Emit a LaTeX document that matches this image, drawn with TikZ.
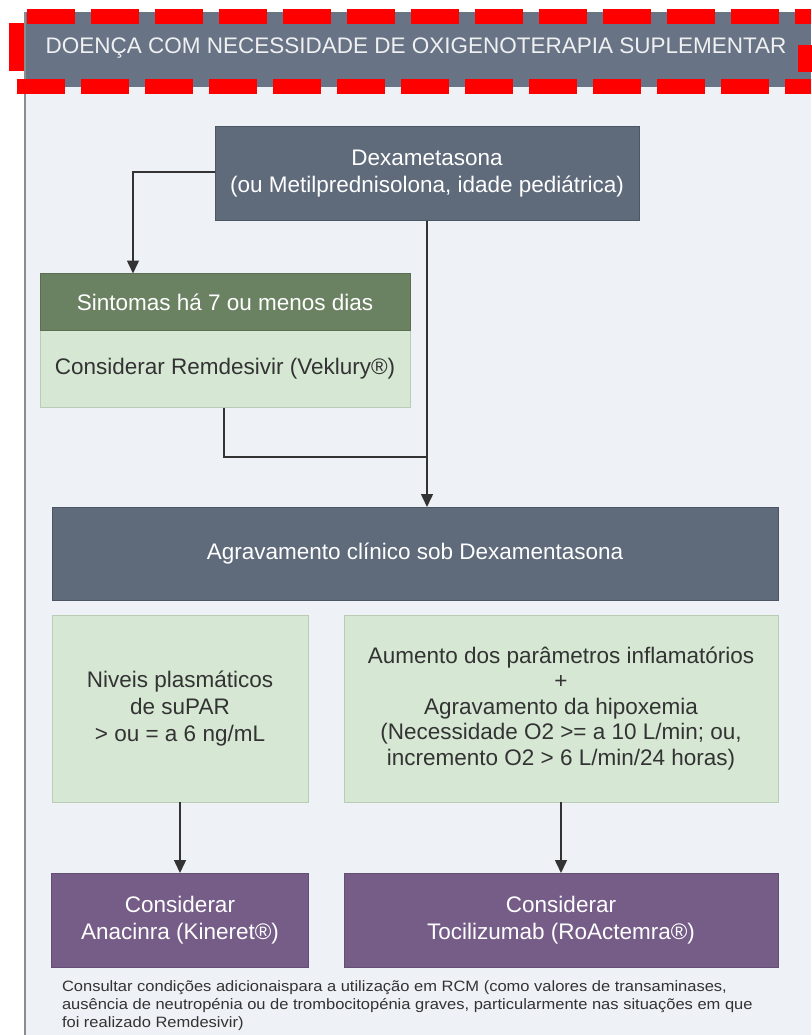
\documentclass[tikz,border=0pt]{standalone}
\usepackage{fontspec}
\setmainfont{Liberation Sans}
\newfontfamily\notefont{Liberation Sans}[FakeStretch=1.10]
\usetikzlibrary{arrows.meta}
\definecolor{pagebg}{HTML}{EEF1F5}
\definecolor{slate}{HTML}{5F6B7B}
\definecolor{headslate}{HTML}{687485}
\definecolor{dgreen}{HTML}{6B8262}
\definecolor{lgreen}{HTML}{D6E8D4}
\definecolor{lgreenb}{HTML}{B9CDB6}
\definecolor{purp}{HTML}{765D88}
\definecolor{txt}{HTML}{333333}
\definecolor{lin}{HTML}{333333}
\definecolor{redd}{HTML}{FF0000}
\definecolor{bord}{HTML}{8C8C8C}
\tikzset{
  box/.style={inner sep=0pt, outer sep=0pt, align=center, font=\fontsize{22.5}{27}\selectfont},
  slatebox/.style={box, fill=slate, text=white, draw=slate!80!black, line width=0.6pt},
  greenhead/.style={box, fill=dgreen, text=white, draw=dgreen!85!black, line width=0.6pt},
  greenbox/.style={box, fill=lgreen, text=txt, draw=lgreenb, line width=0.8pt},
  purpbox/.style={box, fill=purp, text=white, draw=purp!85!black, line width=0.6pt},
  conn/.style={draw=lin, line width=1.5pt},
  arr/.style={conn, -{Triangle[length=13pt,width=12pt]}},
  reddash/.style={draw=redd, line width=15pt, dash pattern=on 48pt off 16pt},
}
\begin{document}
\begin{tikzpicture}[x=1pt,y=-1pt]
\useasboundingbox (0,0) rectangle (811,1035);
\fill[white] (0,0) rectangle (811,1035);
\fill[pagebg] (25,87) rectangle (811,1035);
\fill[headslate] (25,12) rectangle (811,87);
\draw[bord, line width=2pt] (24.5,12) -- (24.5,1035);
\node[box, text=white!90!slate] (title) at (416,48) {DOENÇA COM NECESSIDADE DE OXIGENOTERAPIA SUPLEMENTAR};
% red dashed frame
\draw[reddash] (27,17) -- (811,17);
\draw[reddash] (17,87) -- (811,87);
\draw[reddash] (16,23) -- (16,71);
\draw[reddash] (805,45) -- (805,72);

\node[slatebox, minimum width=424pt, minimum height=94pt] (dex) at (427,173.5) {Dexametasona\\(ou Metilprednisolona, idade pediátrica)};
\node[greenhead, minimum width=370pt, minimum height=57pt] (sint) at (225,302) {Sintomas há 7 ou menos dias};
\node[greenbox, minimum width=370pt, minimum height=77pt, draw=none] (rem) at (225,369) {Considerar Remdesivir (Veklury®)};
\draw[lgreenb, line width=0.8pt] (rem.north west) -- (rem.south west) -- (rem.south east) -- (rem.north east);
\node[slatebox, minimum width=726pt, minimum height=93pt] (agr) at (415,553.5) {Agravamento clínico sob Dexamentasona};
\node[greenbox, minimum width=256pt, minimum height=187pt] (niv) at (180,708.5) {Niveis plasmáticos\\de suPAR\\> ou = a 6 ng/mL};
\node[greenbox, minimum width=434pt, minimum height=187pt, font=\fontsize{22.5}{25.5}\selectfont] (aum) at (561,708.5) {Aumento dos parâmetros inflamatórios\\+\\Agravamento da hipoxemia\\(Necessidade O2 >= a 10 L/min; ou,\\incremento O2 > 6 L/min/24 horas)};
\node[purpbox, minimum width=257pt, minimum height=94pt] (ana) at (180,920) {Considerar\\Anacinra (Kineret®)};
\node[purpbox, minimum width=434pt, minimum height=94pt] (toc) at (561,920) {Considerar\\Tocilizumab (RoActemra®)};
\node[box, text=txt, align=left, anchor=north west, font=\notefont\fontsize{15}{18}\selectfont] (note) at (62,981) {Consultar condições adicionaispara a utilização em RCM (como valores de transaminases,\\ausência de neutropénia ou de trombocitopénia graves, particularmente nas situações em que\\foi realizado Remdesivir)};

% connectors
\coordinate (sinttop) at (133,273.5);
\coordinate (remout) at (224,407.5);
\coordinate (join) at (dex.south |- 0,457);
\draw[arr] (dex.west |- 0,172) -| (sinttop);
\draw[arr] (dex.south) -- (dex.south |- agr.north);
\draw[conn] (remout) |- (join);
\draw[arr] (niv.south) -- (ana.north);
\draw[arr] (aum.south) -- (toc.north);
\end{tikzpicture}
\end{document}
